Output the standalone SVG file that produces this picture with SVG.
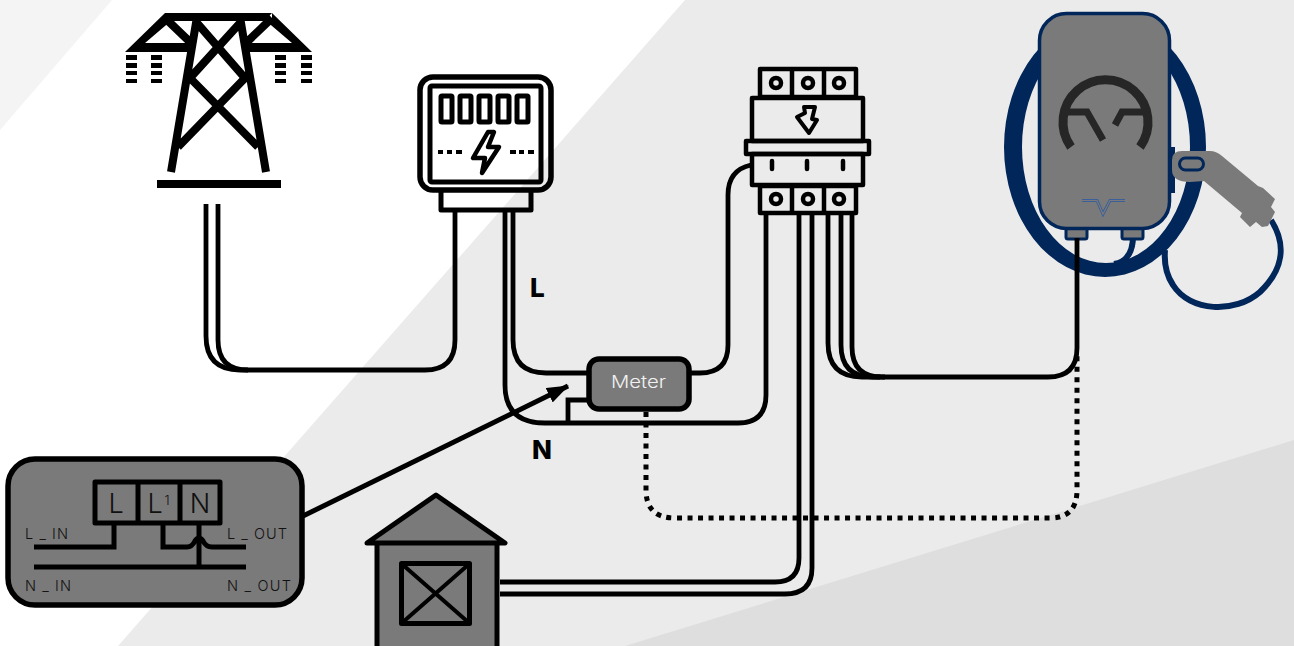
<svg xmlns="http://www.w3.org/2000/svg" width="1294" height="646" viewBox="0 0 1294 646">
<style>
.k{fill:none;stroke:#000;stroke-linejoin:round}
.w{fill:none;stroke:#000;stroke-width:4.8}
.g{fill:#7a7a7a;stroke:#000;stroke-linejoin:round}
.t{font-family:"Inter","Liberation Sans",sans-serif;font-weight:300;fill:#111;font-size:14.5px}
.b{font-family:"Inter","Liberation Sans",sans-serif;font-weight:800;fill:#000;font-size:26px}
.n{fill:#01265a}
</style>
<defs>
<marker id="ah" viewBox="0 0 22 16" refX="21" refY="8" markerWidth="22" markerHeight="16" markerUnits="userSpaceOnUse" orient="auto"><path d="M0,0L22,8L0,16Z" fill="#000"/></marker>
</defs>
<rect width="1294" height="646" fill="#fff"/>
<path d="M0,0H112L0,130Z" fill="#f4f4f4"/>
<path d="M685,0H1294V646H118Z" fill="#ebebeb"/>
<path d="M625,646L1294,440V646Z" fill="#dedede"/>

<g id="tower">
<path fill="#000" d="M165,13H272V21H165ZM125,52L165,13L172,20L145,43H190V52ZM312,52L272,13L265,20L292,43H248V52Z"/>
<path class="k" stroke-width="8" style="stroke-linejoin:miter" d="M196.500,20L171,172M240.500,20L266,172M165,18L190,42M272,18L247,42M197,23L245,78L178,147M240,23L190,78L258,147"/>
<path d="M157,180H281V188H157Z" fill="#000"/>
<path fill="#000" d="M126,55h11v5h-11zM126,63h11v5h-11zM126,71h11v4h-11zM126,79h11v4h-11zM151,55h11v5h-11zM151,63h11v5h-11zM151,71h11v4h-11zM151,79h11v4h-11zM275,55h11v5h-11zM275,63h11v5h-11zM275,71h11v4h-11zM275,79h11v4h-11zM301,55h11v5h-11zM301,63h11v5h-11zM301,71h11v4h-11zM301,79h11v4h-11z"/>
</g>

<g id="energy-meter">
<rect class="k" stroke-width="5.500" x="420" y="77" width="131" height="113" rx="13"/>
<rect class="k" stroke-width="5" x="430" y="86" width="111" height="96" rx="2"/>
<g class="k" stroke-width="5">
<rect x="441" y="96" width="11" height="26" rx="1"/><rect x="460" y="96" width="11" height="26" rx="1"/><rect x="479" y="96" width="11" height="26" rx="1"/><rect x="498" y="96" width="11" height="26" rx="1"/><rect x="517" y="96" width="11" height="26" rx="1"/>
</g>
<path class="k" stroke-width="4.500" d="M488,132L473,158H485L482,173L499,147H488L494,132Z"/>
<path fill="#000" d="M438,150h5v4h-5zM447,150h5v4h-5zM456,150h6v4h-6zM510,150h6v4h-6zM519,150h5v4h-5zM528,150h6v4h-6z"/>
<path class="k" stroke-width="5" d="M441,191V210H531V191"/>
</g>

<g id="breaker">
<rect class="k" stroke-width="4.500" x="760" y="69" width="96" height="28"/>
<path class="k" stroke-width="4.500" d="M792,69V97M824,69V97M792,186V213M824,186V213"/>
<g class="k" stroke-width="4.500"><circle cx="776" cy="83" r="5"/><circle cx="808" cy="83" r="5"/><circle cx="839" cy="83" r="5"/><circle cx="776" cy="199" r="5"/><circle cx="808" cy="199" r="5"/><circle cx="839" cy="199" r="5"/></g>
<rect class="k" stroke-width="4.500" x="752" y="98" width="111" height="43"/>
<path class="k" stroke-width="4" d="M804,107H815L812,119L817,120L809,133L797,117L805,113Z"/>
<rect class="k" stroke-width="4.500" x="746" y="141" width="123" height="13"/>
<rect class="k" stroke-width="4.500" x="752" y="154" width="111" height="31"/>
<path class="k" stroke-width="4.500" stroke-linecap="round" d="M772,161V169M807,161V169M843,161V169"/>
<rect class="k" stroke-width="4.500" x="760" y="186" width="96" height="27"/>
</g>

<g id="charger">
<path class="n" fill-rule="evenodd" d="M1004,147A101,130 0 1 1 1206,147A101,130 0 1 1 1004,147ZM1022,147A84,116 0 1 0 1190,147A84,116 0 1 0 1022,147Z"/>
<path fill="none" stroke="#01265a" stroke-width="6" d="M1133,236C1133,250 1128,262 1114,264"/>
<path fill="none" stroke="#01265a" stroke-width="6" d="M1271,220C1287,245 1283,270 1260,292C1235,314 1190,312 1173,285C1165,273 1164,262 1165,250"/>
<rect class="n" x="1170" y="147" width="5" height="46"/>
<rect x="1066" y="228" width="21" height="11" rx="2" fill="#7a7a7a" stroke="#01265a" stroke-width="3"/>
<rect x="1122" y="228" width="21" height="11" rx="2" fill="#7a7a7a" stroke="#01265a" stroke-width="3"/>
<rect x="1039.500" y="13.500" width="130" height="215" rx="27" fill="#7a7a7a" stroke="#01265a" stroke-width="3.500"/>
<path fill="none" stroke="#262626" stroke-width="9" d="M1071,147A42.500,42.500 0 1 1 1140,147"/>
<path fill="none" stroke="#262626" stroke-width="7" d="M1066,112H1087L1103,140M1143,112H1122L1115,125"/>
<path fill="none" stroke="#3a5f9a" stroke-width="3" d="M1082,200.500H1097L1103,214L1110,200.500H1125"/>
<path fill="none" stroke="#7a7a7a" stroke-width="1.200" d="M1082,200.500H1097L1103,214L1110,200.500H1125"/>
<path d="M1182,151H1210Q1216,151 1222,156L1258,186L1263,188L1275,199L1271,207L1275,212L1268,226L1262,227L1256,222L1250,227L1240,217L1242,213L1204,181L1190,182Q1172,182 1172,170V160Q1172,151 1182,151Z" fill="#7a7a7a"/>
<rect x="1179.500" y="158" width="24" height="12" rx="6" fill="#7a7a7a" stroke="#01265a" stroke-width="3"/>
</g>

<g id="wiring-box">
<rect class="g" stroke-width="5.500" x="8" y="459" width="294" height="146" rx="27"/>
<rect class="g" stroke-width="5" x="95" y="482" width="125" height="41"/>
<path class="k" stroke-width="5" d="M138,482V523M180,482V523"/>
<path class="k" stroke-width="5" style="stroke-linejoin:miter" d="M114,524V547H34M163,524V547H187Q192,547 195,541Q199,535 203,541Q206,547 212,547H246M199,524V567M34,567H246"/>
<text class="t" style="font-size:27px" x="116" y="513" text-anchor="middle">L</text>
<text class="t" style="font-size:27px" x="155" y="513" text-anchor="middle">L</text>
<text class="t" style="font-size:13px" x="167" y="505" text-anchor="middle">1</text>
<text class="t" style="font-size:27px" x="200" y="513" text-anchor="middle">N</text>
<text class="t" x="25" y="539" textLength="43">L _ IN</text>
<text class="t" x="227" y="539" textLength="60">L _ OUT</text>
<text class="t" x="25" y="591" textLength="46">N _ IN</text>
<text class="t" x="227" y="591" textLength="64">N _ OUT</text>
</g>

<g id="house">
<path class="g" stroke-width="5" d="M377,543V650H497V543"/>
<path class="g" stroke-width="5" d="M367,543L436,495L505,543Z"/>
<rect class="g" stroke-width="5" x="401.500" y="563.500" width="68" height="60"/>
<path class="k" stroke-width="4" d="M403,565L468,622M468,565L403,622"/>
</g>

<g id="connectors">
<path class="w" d="M206,204V336Q206,370 240,370H425Q455,370 455,340V212"/>
<path class="w" d="M218,204V340Q218,370 248,370"/>
<path class="w" d="M513,212V340Q513,373 546,373H590"/>
<path class="w" d="M505,212V385Q505,423 545,423H738Q766,423 766,395V215"/>
<path class="w" d="M590,400H568V423"/>
<path class="w" d="M690,373H700Q728,373 728,345V195Q728,170 751,165"/>
<path class="w" d="M799,215V558Q799,582 775,582H500"/>
<path class="w" d="M812,215V568Q812,594 785,594H500"/>
<path class="w" d="M828,215V343Q828,377 862,377H880"/>
<path class="w" d="M841,215V345Q841,377 873,377H885"/>
<path class="w" d="M852,215V347Q852,377 882,377H1048Q1077,377 1077,348V238"/>
<path class="k" stroke-width="5" stroke-dasharray="5 5.500" d="M646,412V490Q646,518 675,518H1050Q1077,518 1077,490V354"/>
<path fill="none" stroke="#000" stroke-width="5" marker-end="url(#ah)" d="M303,516L568,386"/>
</g>

<g id="meter">
<rect class="g" stroke-width="5.500" x="589" y="359" width="100" height="50" rx="10"/>
<text x="611" y="388" textLength="55" lengthAdjust="spacingAndGlyphs" font-family="Inter,'Liberation Sans',sans-serif" font-size="17" font-weight="300" fill="#f2f2f2">Meter</text>
</g>
<text class="b" x="530" y="297">L</text>
<text class="b" x="532" y="459">N</text>
</svg>
